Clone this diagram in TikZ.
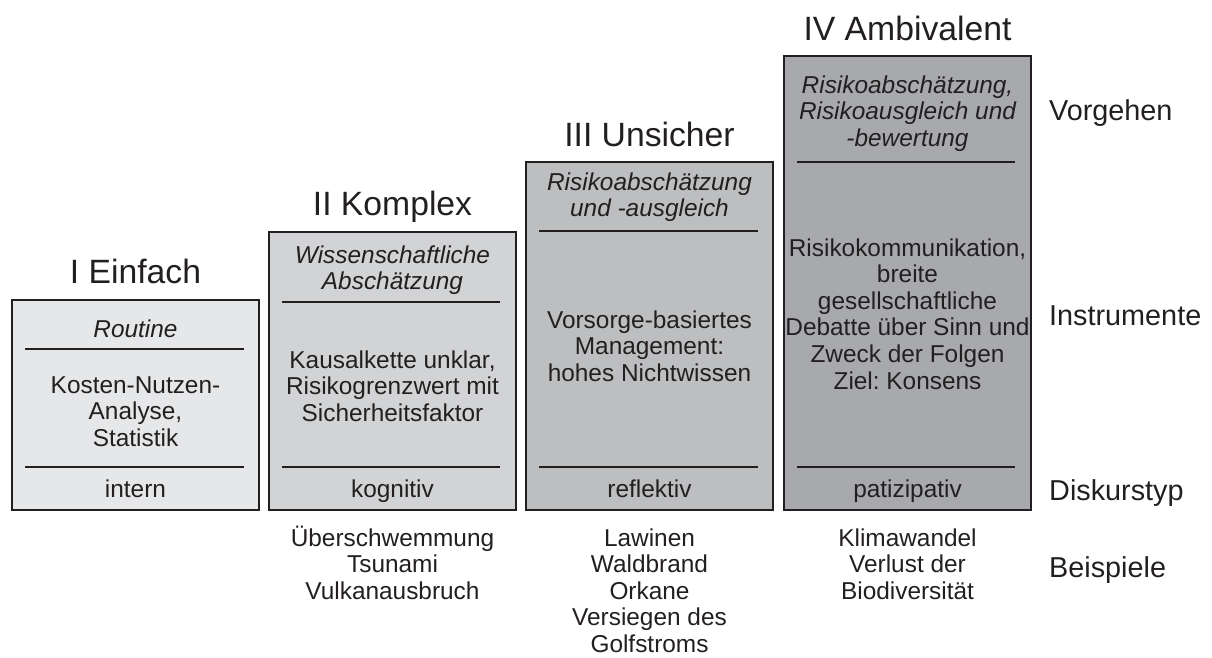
\documentclass[tikz,border=0pt]{standalone}
\usepackage{fontspec}
\setmainfont{Liberation Sans}
\frenchspacing
\newcommand{\mlines}[1]{\begin{tabular}[t]{@{}c@{}}#1\end{tabular}}
\definecolor{ink}{HTML}{231F20}
\definecolor{fillA}{HTML}{E6E7E8}
\definecolor{fillB}{HTML}{D1D3D4}
\definecolor{fillC}{HTML}{BCBEC0}
\definecolor{fillD}{HTML}{A7A9AC}
\tikzset{
  box/.style={draw=ink, line width=2.5pt},
  divider/.style={draw=ink, line width=2.2pt},
  title/.style={font=\fontsize{33.7}{40}\selectfont, text=ink, inner sep=0pt, anchor=base},
  body/.style={font=\fontsize{24.4}{26.6}\selectfont, text=ink, inner sep=0pt, anchor=base},
  ital/.style={font=\fontsize{24.4}{26.6}\selectfont\itshape, text=ink, inner sep=0pt, anchor=base},
  side/.style={font=\fontsize{28.8}{34}\selectfont, text=ink, inner sep=0pt, anchor=base west},
}
\begin{document}
\begin{tikzpicture}[x=1pt,y=-1pt]
\useasboundingbox (0,0) rectangle (1212,657);
% boxes
\path[box, fill=fillA] (12,300) rectangle (259,510);
\path[box, fill=fillB] (269,232) rectangle (516,510);
\path[box, fill=fillC] (526,162) rectangle (773,510);
\path[box, fill=fillD] (784,56) rectangle (1031,510);
% dividers
\draw[divider] (25,349) -- (244,349);
\draw[divider] (25,467) -- (244,467);
\draw[divider] (282,302) -- (500,302);
\draw[divider] (282,467) -- (500,467);
\draw[divider] (539,231) -- (758,231);
\draw[divider] (539,467) -- (758,467);
\draw[divider] (797,162) -- (1015,162);
\draw[divider] (797,467) -- (1015,467);
% titles
\node[title] (t1) at (135.5,283) {I Einfach};
\node[title] (t2) at (392.5,215) {II Komplex};
\node[title] (t3) at (649.5,146) {III Unsicher};
\node[title] (t4) at (907.5,40.5) {IV Ambivalent};
% box I
\node[ital] (v1) at (135.5,337) {Routine};
\node[body] (i1) at (135.5,393) {\mlines{Kosten-Nutzen-\\Analyse,\\Statistik}};
\node[body] (d1) at (135.5,497) {intern};
% box II
\node[ital] (v2) at (392.5,263) {\mlines{Wissenschaftliche\\Abschätzung}};
\node[body] (i2) at (392.5,368) {\mlines{Kausalkette unklar,\\Risikogrenzwert mit\\Sicherheitsfaktor}};
\node[body] (d2) at (392.5,497) {kognitiv};
% box III
\node[ital] (v3) at (649.5,190) {\mlines{Risikoabschätzung\\und -ausgleich}};
\node[body] (i3) at (649.5,328) {\mlines{Vorsorge-basiertes\\Management:\\hohes Nichtwissen}};
\node[body] (d3) at (649.5,497) {reflektiv};
% box IV
\node[ital] (v4) at (907.5,93) {\mlines{Risikoabschätzung,\\Risikoausgleich und\\-bewertung}};
\node[body] (i4) at (907.5,256) {\mlines{Risikokommunikation,\\breite\\gesellschaftliche\\Debatte über Sinn und\\Zweck der Folgen\\Ziel: Konsens}};
\node[body] (d4) at (907.5,497) {patizipativ};
% examples
\node[body] (e2) at (392.5,546) {\mlines{Überschwemmung\\Tsunami\\Vulkanausbruch}};
\node[body] (e3) at (649.5,546) {\mlines{Lawinen\\Waldbrand\\Orkane\\Versiegen des\\Golfstroms}};
\node[body] (e4) at (907.5,546) {\mlines{Klimawandel\\Verlust der\\Biodiversität}};
% side labels
\node[side] (s1) at (1049,120) {Vorgehen};
\node[side] (s2) at (1049,325) {Instrumente};
\node[side] (s3) at (1049,500) {Diskurstyp};
\node[side] (s4) at (1049,577) {Beispiele};
\end{tikzpicture}
\end{document}
